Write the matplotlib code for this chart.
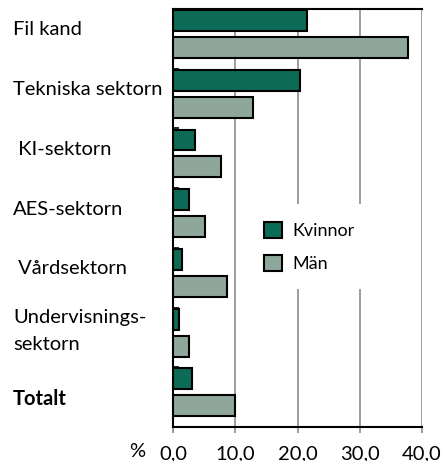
import matplotlib
matplotlib.use("Agg")
import matplotlib.pyplot as plt
import matplotlib.transforms as mtransforms
from matplotlib.patches import Rectangle
import numpy as np

categories = ["Fil kand", "Tekniska sektorn", " KI-sektorn", "AES-sektorn",
              " Vårdsektorn", "Undervisnings-\nsektorn", "Totalt"]
kvinnor = [21.5, 20.4, 3.5, 2.6, 1.4, 1.0, 3.1]
man = [37.8, 12.9, 7.7, 5.1, 8.6, 2.6, 10.0]
xticks = [0, 10, 20, 30, 40]
xticklabels = ["0,0", "10,0", "20,0", "30,0", "40,0"]

GREEN = "#0B6B57"
GREY = "#8FA79B"
GRID = "#8C8C8C"

plt.rcParams["font.family"] = ["Lato", "DejaVu Sans"]
FS = 14.5

fig = plt.figure(figsize=(4.42, 4.61), dpi=100)
ax = fig.add_axes([173 / 442, 1 - 427 / 461, 249 / 442, 418 / 461])

y = np.arange(len(categories))
h = 0.35
ax.barh(y - 0.307, kvinnor, height=h, color=GREEN, edgecolor="black",
        linewidth=1.5, label="Kvinnor", zorder=3)
ax.barh(y + 0.145, man, height=h, color=GREY, edgecolor="black",
        linewidth=1.5, label="Män", zorder=3)

ax.set_xlim(0, 40)
ax.set_ylim(len(categories) - 0.5, -0.5)

for gx in xticks[1:]:
    ax.axvline(gx, color=GRID, lw=1.2, zorder=1)

# white block behind the legend interrupts the gridlines
ax.add_patch(Rectangle((10.8, 2.77), 28.1, 1.42, facecolor="white",
                       edgecolor="none", zorder=2))

ax.set_xticks(xticks)
ax.set_xticklabels(xticklabels, fontsize=FS)
ax.tick_params(axis="x", length=4, width=1.2, color=GRID, pad=9)
ax.set_yticks(np.arange(len(categories) + 1) - 0.5)
ax.set_yticklabels([])
ax.tick_params(axis="y", direction="in", length=4, width=1.2)

for s in ["left", "bottom", "top"]:
    ax.spines[s].set_linewidth(1.5)
    ax.spines[s].set_color("black")
ax.spines["right"].set_visible(False)

trans = mtransforms.blended_transform_factory(fig.transFigure, ax.transData)
for i, cat in enumerate(categories):
    dy = -0.15
    if "\n" in cat:
        dy = -0.11
    if i == len(categories) - 1:
        dy = 0.03
    ax.text(13 / 442, i + dy, cat, transform=trans, ha="left", va="center",
            fontsize=FS, linespacing=1.75,
            fontweight="bold" if cat.strip() == "Totalt" else "normal")

fig.text(137 / 442, 1 - 451 / 461, "%", ha="center", va="center", fontsize=FS)

leg = ax.legend(loc="upper left", bbox_to_anchor=(255 / 442, 1 - 213 / 461),
                bbox_transform=fig.transFigure, frameon=False, fontsize=13,
                borderpad=0, handlelength=1.0, handleheight=1.0,
                handletextpad=0.55, labelspacing=0.85)
leg.set_zorder(4)

fig.savefig("out.png", dpi=100, facecolor="white")
